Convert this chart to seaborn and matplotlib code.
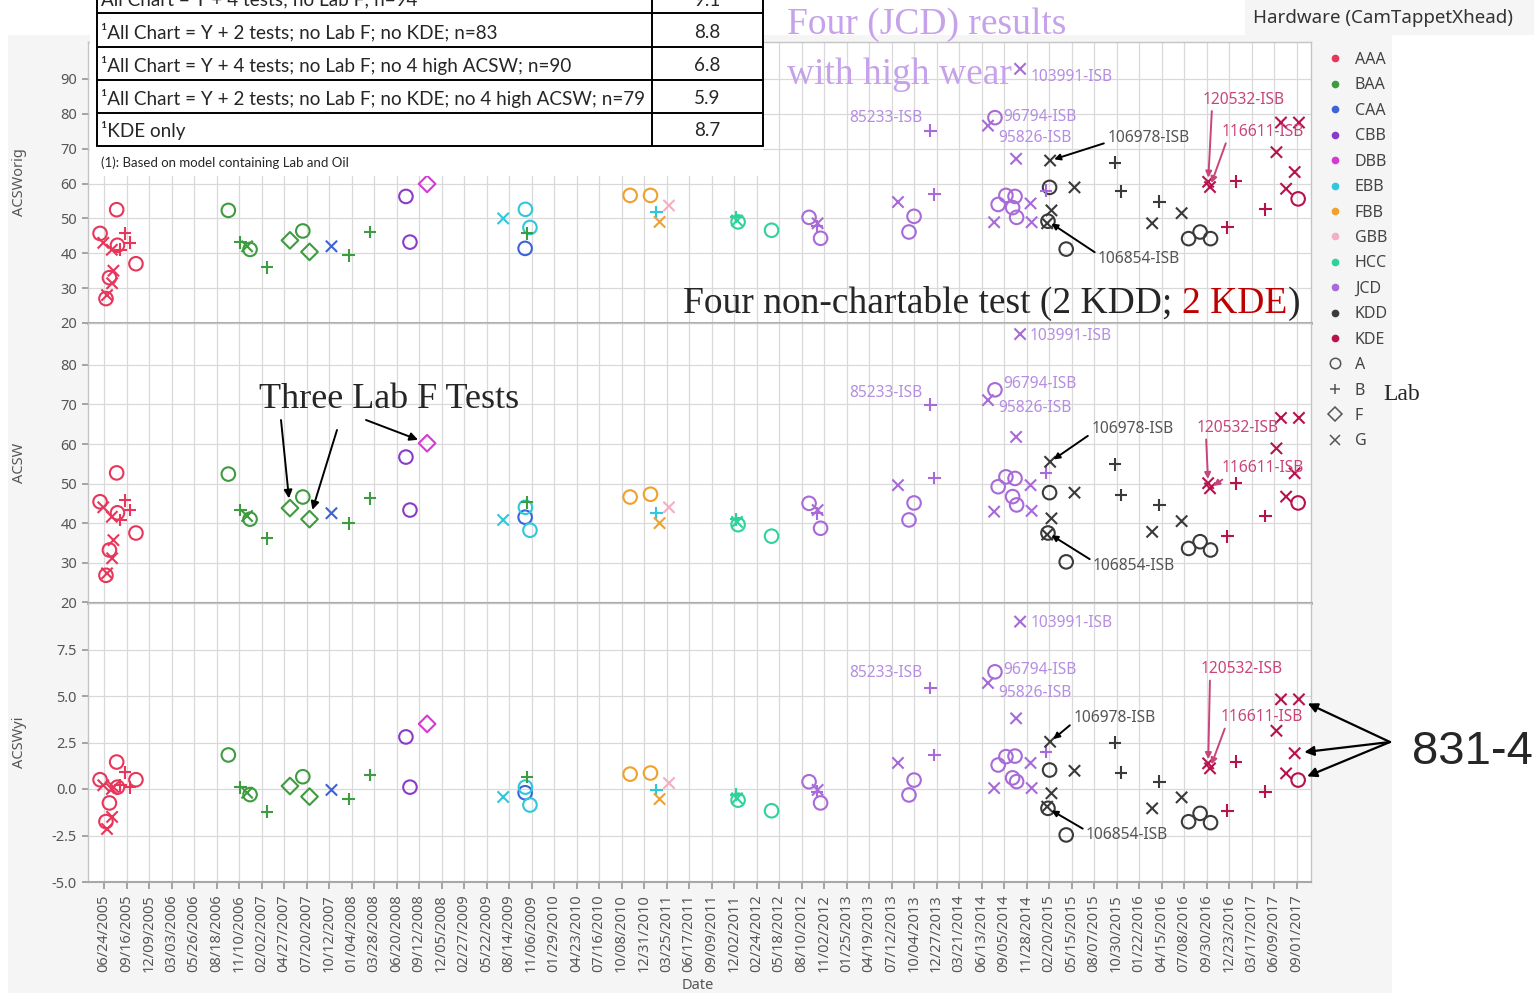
import pandas as pd
import seaborn as sns
import matplotlib.pyplot as plt
import matplotlib.dates as mdates
from matplotlib.patches import Rectangle
from matplotlib.lines import Line2D

# Datos: un ensayo por posición
test_date = [
    # AAA
    '2005-08-10', '2005-06-09', '2005-09-10', '2005-09-29', '2005-08-13', '2005-06-21', '2005-07-23',
    '2005-08-23', '2005-10-21', '2005-07-29', '2005-07-14', '2005-07-24', '2005-07-01', '2005-07-05',
    # BAA
    '2006-10-01', '2006-11-14', '2006-12-21', '2006-12-10', '2007-02-22', '2007-05-19', '2007-07-06',
    '2007-07-31', '2007-12-24', '2008-03-13', '2009-10-20',
    # CAA, CBB, DBB
    '2007-10-21', '2009-10-13', '2008-07-25', '2008-08-09', '2008-10-12',
    # EBB, FBB, GBB
    '2009-07-23', '2009-10-14', '2009-10-31', '2011-02-14', '2010-11-09', '2011-01-24', '2011-02-27',
    '2011-04-03',
    # HCC
    '2011-12-13', '2011-12-11', '2011-12-17', '2012-04-20',
    # JCD
    '2012-09-07', '2012-10-07', '2012-10-09', '2012-10-20', '2013-12-03', '2013-08-05', '2013-12-18',
    '2013-10-04', '2013-09-15', '2014-07-07', '2014-08-02', '2014-11-04', '2014-10-20', '2014-08-14',
    '2014-09-12', '2014-10-16', '2014-10-07', '2014-10-22', '2014-07-30', '2014-12-13', '2014-12-17',
    '2015-02-09',
    # KDD
    '2015-02-24', '2015-10-24', '2015-02-22', '2015-05-26', '2015-11-16', '2015-03-01', '2015-02-16',
    '2015-02-13', '2015-04-25', '2016-04-06', '2016-03-11', '2016-06-29', '2016-07-25', '2016-09-06',
    '2016-10-15',
    # KDE
    '2016-10-06', '2016-10-13', '2017-01-18', '2016-12-16', '2017-05-08', '2017-06-18', '2017-07-05',
    '2017-09-10', '2017-08-25', '2017-07-24', '2017-09-07',
]
hardware = (
    ['AAA'] * 14 + ['BAA'] * 11 + ['CAA', 'CAA', 'CBB', 'CBB', 'DBB']
    + ['EBB'] * 4 + ['FBB'] * 3 + ['GBB'] + ['HCC'] * 4 + ['JCD'] * 22 + ['KDD'] * 15 + ['KDE'] * 11
)
lab = [
    'A', 'A', 'B', 'B', 'A', 'G', 'G', 'B', 'A', 'G', 'A', 'G', 'A', 'G',
    'A', 'B', 'A', 'G', 'B', 'F', 'A', 'F', 'B', 'B', 'B',
    'G', 'A', 'A', 'A', 'F',
    'G', 'A', 'A', 'B', 'A', 'A', 'G', 'G',
    'G', 'B', 'A', 'A',
    'A', 'B', 'G', 'A', 'B', 'G', 'B', 'A', 'A', 'G', 'A', 'G', 'G', 'A', 'A', 'A', 'A', 'A', 'G', 'G', 'G', 'B',
    'G', 'B', 'A', 'G', 'B', 'G', 'A', 'G', 'A', 'B', 'G', 'G', 'A', 'A', 'A',
    'G', 'G', 'B', 'B', 'B', 'G', 'G', 'G', 'G', 'G', 'A',
]
acsw_orig = [
    52.5, 45.7, 45.7, 43.0, 42.3, 43.0, 41.0, 41.0, 37.0, 35.0, 33.0, 31.4, 27.0, 28.0,
    52.3, 43.2, 41.1, 42.0, 36.0, 43.7, 46.4, 40.4, 39.4, 46.1, 45.7,
    42.0, 41.4, 56.3, 43.2, 59.9,
    50.0, 52.6, 47.4, 51.8, 56.6, 56.6, 49.0, 53.7,
    49.4, 50.4, 49.0, 46.6,
    50.3, 47.7, 48.6, 44.3, 75.1, 54.7, 56.9, 50.6, 46.1, 76.6, 78.9, 92.9, 67.1, 54.0, 56.6, 56.3,
    53.1, 50.3, 48.9, 54.3, 48.9, 58.0,
    66.6, 66.0, 58.9, 58.9, 57.8, 52.3, 49.2, 48.6, 41.2, 54.8, 48.6, 51.5, 44.2, 46.1, 44.2,
    60.5, 59.0, 60.6, 47.5, 52.6, 69.0, 77.5, 77.5, 63.3, 58.5, 55.6,
]
acsw = [
    52.7, 45.4, 45.8, 43.3, 42.6, 44.0, 41.6, 40.8, 37.5, 35.7, 33.2, 31.1, 26.8, 27.3,
    52.4, 43.3, 41.0, 41.8, 36.2, 43.8, 46.6, 41.0, 40.0, 46.3, 45.3,
    42.5, 41.5, 56.7, 43.3, 60.2,
    40.8, 44.0, 38.2, 42.5, 46.6, 47.3, 40.0, 44.0,
    40.3, 41.0, 39.6, 36.7,
    45.0, 42.5, 43.3, 38.7, 69.9, 49.6, 51.4, 45.1, 40.8, 71.1, 73.7, 87.8, 61.8, 49.2, 51.7, 51.3,
    46.7, 44.6, 42.9, 49.6, 43.1, 52.7,
    55.5, 54.9, 47.7, 47.7, 47.1, 41.2, 37.5, 37.1, 30.2, 44.6, 37.8, 40.5, 33.6, 35.3, 33.2,
    50.1, 48.8, 50.1, 36.7, 41.8, 58.9, 66.6, 66.6, 52.6, 46.7, 45.1,
]
acsw_yi = [
    1.45, 0.5, 0.9, 0.1, 0.1, 0.2, 0.0, 0.2, 0.5, 0.1, -0.75, -1.5, -1.75, -2.15,
    1.83, 0.1, -0.3, -0.2, -1.22, 0.16, 0.66, -0.41, -0.54, 0.75, 0.64,
    -0.05, -0.2, 2.8, 0.1, 3.5,
    -0.43, 0.1, -0.86, -0.05, 0.8, 0.86, -0.54, 0.32,
    -0.5, -0.3, -0.6, -1.17,
    0.39, -0.15, -0.05, -0.75, 5.43, 1.4, 1.83, 0.48, -0.32, 5.7, 6.3, 9.0, 3.8, 1.29, 1.74, 1.77,
    0.6, 0.4, 0.05, 1.4, 0.05, 2.0,
    2.54, 2.49, 1.02, 0.98, 0.88, -0.23, -1.04, -0.95, -2.47, 0.39, -1.04, -0.45, -1.76, -1.31, -1.81,
    1.38, 1.11, 1.47, -1.17, -0.15, 3.13, 4.82, 4.82, 1.92, 0.84, 0.48,
]

hardware_order = ['AAA', 'BAA', 'CAA', 'CBB', 'DBB', 'EBB', 'FBB', 'GBB', 'HCC', 'JCD', 'KDD', 'KDE']
lab_order = ['A', 'B', 'F', 'G']

callout_ids = ['85233-ISB', '96794-ISB', '95826-ISB', '103991-ISB',
               '106978-ISB', '106854-ISB', '120532-ISB', '116611-ISB']
callout_dates = ['2013-12-03', '2014-08-02', '2014-07-07', '2014-11-04',
                 '2015-02-24', '2015-02-16', '2016-10-06', '2016-10-13']
oil_831_dates = ['2017-09-10', '2017-08-25', '2017-09-07']

table_rows = ['All Chart = Y + 4 tests; no Lab F; n=94',
              '\u00b9All Chart = Y + 2 tests; no Lab F; no KDE; n=83',
              '\u00b9All Chart = Y + 4 tests; no Lab F; no 4 high ACSW; n=90',
              '\u00b9All Chart = Y + 2 tests; no Lab F; no KDE; no 4 high ACSW; n=79',
              '\u00b9KDE only']
table_values = ['9.1', '8.8', '6.8', '5.9', '8.7']

df = pd.DataFrame({'Date': pd.to_datetime(test_date), 'Hardware': hardware, 'Lab': lab,
                   'ACSWorig': acsw_orig, 'ACSW': acsw, 'ACSWyi': acsw_yi})

palette = {'AAA': '#e8355a', 'BAA': '#3f9b3f', 'CAA': '#3d63d6', 'CBB': '#8a3cc8',
           'DBB': '#d43ad4', 'EBB': '#2ec8dc', 'FBB': '#f0a02c', 'GBB': '#f2b0c2',
           'HCC': '#2cd49a', 'JCD': '#a86ad8', 'KDD': '#3a3a3a', 'KDE': '#b8124e'}
lab_markers = {'A': 'o', 'B': '+', 'F': 'D', 'G': 'x'}
lab_sizes = {'A': 95, 'B': 85, 'F': 72, 'G': 66}

sns.set_theme(style='white')
plt.rcParams['font.family'] = ['Noto Sans', 'DejaVu Sans']

W, H = 1534, 993
fig = plt.figure(figsize=(W / 100, H / 100), dpi=100)
fig.patch.set_facecolor('white')
fig.add_artist(Rectangle((8 / W, 0), (1392 - 8) / W, (H - 35) / H, transform=fig.transFigure,
                         fc='#f5f5f5', ec='none', zorder=-5))
fig.add_artist(Rectangle((1245 / W, 1 - 35 / H), (W - 1245) / W, 35 / H, transform=fig.transFigure,
                         fc='#f5f5f5', ec='none', zorder=-5))


def px_axes(left, top, right, bottom):
    return [left / W, 1 - bottom / H, (right - left) / W, (bottom - top) / H]


ax1 = fig.add_axes(px_axes(88, 42, 1311, 323))
ax2 = fig.add_axes(px_axes(88, 323, 1311, 603), sharex=ax1)
ax3 = fig.add_axes(px_axes(88, 603, 1311, 882), sharex=ax1)
axes = [ax1, ax2, ax3]
columns = ['ACSWorig', 'ACSW', 'ACSWyi']

for ax, col in zip(axes, columns):
    for lb in lab_order:
        sub = df[df['Lab'] == lb]
        sns.scatterplot(data=sub, x='Date', y=col, hue='Hardware', hue_order=hardware_order,
                        palette=palette, marker=lab_markers[lb], s=lab_sizes[lb],
                        legend=False, ax=ax, zorder=3)
        pts = ax.collections[-1]
        fc = pts.get_facecolors()
        pts.set_edgecolors(fc)
        if lb in ('A', 'F'):
            pts.set_facecolors('none')
        pts.set_linewidths(1.5)

# Ejes
tick_dates = pd.date_range('2005-06-24', '2017-09-01', freq='84D')
ax1.set_xlim(mdates.date2num(pd.Timestamp('2005-04-25')), mdates.date2num(pd.Timestamp('2017-10-25')))
ax3.set_xticks(mdates.date2num(tick_dates))
ax3.set_xticklabels([d.strftime('%m/%d/%Y') for d in tick_dates], rotation=90)

ax1.set_ylim(20, 100.6)
ax1.set_yticks(range(20, 100, 10))
ax2.set_ylim(19.8, 90.6)
ax2.set_yticks(range(20, 90, 10))
ax3.set_ylim(-5, 10)
ax3.set_yticks([-5, -2.5, 0, 2.5, 5, 7.5])
ax3.set_yticklabels(['-5.0', '-2.5', '0.0', '2.5', '5.0', '7.5'])

for ax, col in zip(axes, columns):
    ax.set_facecolor('white')
    ax.grid(True, color='#d9d9d9', lw=0.9)
    ax.set_axisbelow(True)
    ax.set_ylabel(col, fontsize=10.5, color='#555555')
    ax.yaxis.set_label_coords(-0.05, 0.5)
    ax.set_xlabel('')
    ax.tick_params(axis='y', left=True, length=4, color='#999999', labelsize=10.5,
                   labelcolor='#555555', pad=4)
    for sp in ax.spines.values():
        sp.set_color('#c4c4c4')
        sp.set_linewidth(1.0)
ax1.tick_params(axis='x', bottom=False, labelbottom=False)
ax2.tick_params(axis='x', bottom=False, labelbottom=False)
ax3.tick_params(axis='x', bottom=True, length=5, color='#999999', labelsize=10.5,
                labelcolor='#555555', pad=4)
for ax in (ax1, ax2):
    ax.spines['bottom'].set_color('#a0a0a0')
    ax.spines['bottom'].set_linewidth(2)
ax3.spines['bottom'].set_color('#a8a8a8')
ax3.spines['bottom'].set_linewidth(1.5)
ax3.set_xlabel('Date', fontsize=10.5, color='#555555')
ax3.xaxis.set_label_coords(0.4988, -0.345)

# Etiquetas de ensayos destacados: desplazamiento en píxeles (dx, dy hacia abajo) por panel
label_colors = {'JCD': '#b58ee2', 'KDD': '#555555', 'KDE': '#c8457a'}
callout_offsets = {
    '85233-ISB': [(-8, -13), (-8, -12), (-8, -15)],
    '96794-ISB': [(8, -1), (8, -6), (8, -2)],
    '95826-ISB': [(10, 12), (10, 8), (10, 10)],
    '103991-ISB': [(10, 8), (9, 2), (10, 1)],
    '106978-ISB': [(57, -23), (41, -33), (23, -24)],
    '106854-ISB': [(50, 38), (45, 33), (38, 27)],
    '120532-ISB': [(-6, -82), (-12, -55), (-8, -94)],
    '116611-ISB': [(12, -55), (12, -20), (11, -51)],
}
callout_relpos = {'106978-ISB': (0, 0.2), '106854-ISB': (0, 0.8),
                  '120532-ISB': (0.12, 0), '116611-ISB': (0.06, 0)}

for cid, cdate in zip(callout_ids, callout_dates):
    row = df[df['Date'] == pd.Timestamp(cdate)].iloc[0]
    color = label_colors[row['Hardware']]
    for ax, col, (dx, dy) in zip(axes, columns, callout_offsets[cid]):
        ha = 'right' if cid == '85233-ISB' else 'left'
        kw = {}
        if cid in callout_relpos:
            kw['arrowprops'] = dict(arrowstyle='-|>', color='black' if row['Hardware'] == 'KDD' else color,
                                    lw=1.4, mutation_scale=9, shrinkA=0, shrinkB=3,
                                    relpos=callout_relpos[cid])
        ax.annotate(cid, xy=(mdates.date2num(row['Date']), row[col]),
                    xytext=(dx * 0.72, -dy * 0.72), textcoords='offset points',
                    ha=ha, va='center', fontsize=11.2, color=color, zorder=5, **kw)

# Capa superior en píxeles para tabla y anotaciones
ov = fig.add_axes([0, 0, 1, 1], zorder=10)
ov.set_xlim(0, W)
ov.set_ylim(H, 0)
ov.axis('off')
ov.patch.set_visible(False)

ov.add_patch(Rectangle((90, -2), 763 - 90, 178, fc='white', ec='none', zorder=1))
row_lines = [13, 47, 80, 113, 146]
for y in row_lines:
    ov.plot([97, 763], [y, y], color='black', lw=1.4, zorder=2)
for x in (97, 652, 763):
    ov.plot([x, x], [-2, 146], color='black', lw=1.4, zorder=2)
row_centers = [0, 32, 65.5, 98.5, 131]
for txt, val, yc in zip(table_rows, table_values, row_centers):
    ov.text(101, yc, txt, ha='left', va='center', fontsize=13.6, family='Lato', zorder=3)
    ov.text(707, yc, val, ha='center', va='center', fontsize=13.6, family='Lato', zorder=3)
ov.text(101, 163, '(1): Based on model containing Lab and Oil', ha='left', va='center',
        fontsize=9.5, family='Lato', zorder=3)

serif = 'Liberation Serif'
ov.text(787, 25, 'Four (JCD) results', ha='left', va='center', fontsize=27, family=serif, color='#c6a2ea')
ov.text(787, 75, 'with high wear', ha='left', va='center', fontsize=27, family=serif, color='#c6a2ea')

t1 = ov.text(683, 303, 'Four non-chartable test (2 KDD;', ha='left', va='center', fontsize=27, family=serif)
t2 = ov.annotate('2 KDE', xy=(1, 0), xycoords=t1, xytext=(7, 0), textcoords='offset points',
                 ha='left', va='bottom', fontsize=27, family=serif, color='#c00000')
ov.annotate(')', xy=(1, 0), xycoords=t2, ha='left', va='bottom', fontsize=27, family=serif)

ov.text(389, 400, 'Three Lab F Tests', ha='center', va='center', fontsize=26, family=serif)
lab_f = df[df['Lab'] == 'F']
for (_, r), src in zip(lab_f.iterrows(), [(281, 420), (337, 430), (366, 420)]):
    ax2.annotate('', xy=(mdates.date2num(r['Date']), r['ACSW']), xytext=src, textcoords=ov.transData,
                 arrowprops=dict(arrowstyle='-|>', color='black', lw=1.4, mutation_scale=12,
                                 shrinkA=0, shrinkB=7), annotation_clip=False)

ov.text(1412, 752, '831-4', ha='left', va='center', fontsize=34, family='Liberation Sans')
for d in oil_831_dates:
    r = df[df['Date'] == pd.Timestamp(d)].iloc[0]
    ax3.annotate('', xy=(mdates.date2num(r['Date']), r['ACSWyi']), xytext=(1390, 742),
                 textcoords=ov.transData,
                 arrowprops=dict(arrowstyle='-|>', color='black', lw=1.6, mutation_scale=14,
                                 shrinkA=0, shrinkB=7), annotation_clip=False)

# Leyenda
ov.text(1253, 18, 'Hardware (CamTappetXhead)', ha='left', va='center', fontsize=13.5, color='#333333')
handles = [Line2D([], [], ls='none', marker='o', ms=4.5, mfc=palette[h], mec=palette[h]) for h in hardware_order]
handles += [Line2D([], [], ls='none', marker=lab_markers[lb], ms=7.5, mfc='none', mec='#555555', mew=1.1)
            for lb in lab_order]
fig.legend(handles, hardware_order + lab_order, loc='upper left', bbox_to_anchor=(1327, 52),
           bbox_transform=ov.transData, frameon=False, fontsize=11.5, labelcolor='#444444',
           handlelength=1.0, handletextpad=0.75, labelspacing=0.59, borderaxespad=0, borderpad=0)
ov.text(1383, 395, 'Lab', ha='left', va='center', fontsize=17, family=serif)

plt.savefig('out.png', dpi=100)
